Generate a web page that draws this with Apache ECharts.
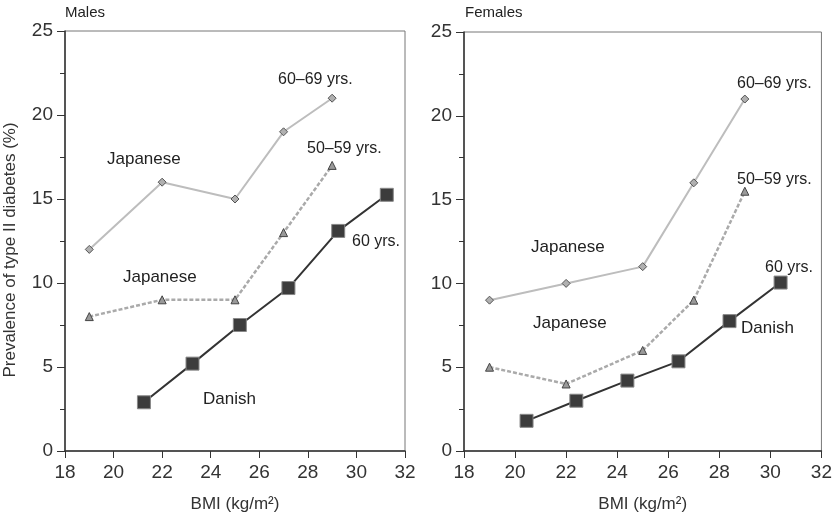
<!DOCTYPE html>
<html><head><meta charset="utf-8">
<script src="https://cdn.jsdelivr.net/npm/echarts@6/dist/echarts.min.js"></script>
<style>html,body{margin:0;padding:0;background:#fff}#c{width:835px;height:518px}</style>
</head><body><div id="c"></div>
<script>
// Males
const maleJap6069X = [19, 22, 25, 27, 29];
const maleJap6069Y = [12, 16, 15, 19, 21];
const maleJap5059X = [19, 22, 25, 27, 29];
const maleJap5059Y = [8, 9, 9, 13, 17];
const maleDanX = [21.25, 23.25, 25.2, 27.2, 29.25, 31.25];
const maleDanY = [2.9, 5.2, 7.5, 9.7, 13.1, 15.25];
// Females
const femJap6069X = [19, 22, 25, 27, 29];
const femJap6069Y = [9, 10, 11, 16, 21];
const femJap5059X = [19, 22, 25, 27, 29];
const femJap5059Y = [5, 4, 6, 9, 15.5];
const femDanX = [20.45, 22.4, 24.4, 26.4, 28.4, 30.4];
const femDanY = [1.8, 3.0, 4.2, 5.35, 7.75, 10.05];
// Axes
const xTicks = [18, 20, 22, 24, 26, 28, 30, 32];
const yTicks = [0, 5, 10, 15, 20, 25];

const zip = (xs, ys) => xs.map((x, i) => [x, ys[i]]);
const FONT = '"Liberation Sans", Arial, sans-serif';

function xAxis(gi, name) {
  return {
    type: 'value', gridIndex: gi, min: xTicks[0], max: xTicks[xTicks.length - 1], interval: 2,
    name: name, nameLocation: 'middle', nameGap: 45,
    nameTextStyle: { fontFamily: FONT, fontSize: 17, color: '#333' },
    axisLine: { show: true, lineStyle: { color: '#333', width: 1.5 } },
    axisTick: { show: true, inside: false, length: 7, lineStyle: { color: '#333' } },
    axisLabel: { fontFamily: FONT, fontSize: 19, color: '#333', margin: 12 },
    splitLine: { show: false }
  };
}
function yAxis(gi, name) {
  return {
    type: 'value', gridIndex: gi, min: yTicks[0], max: yTicks[yTicks.length - 1], interval: 5,
    name: name, nameLocation: 'middle', nameGap: 46, nameRotate: 90,
    nameTextStyle: { fontFamily: FONT, fontSize: 17, color: '#333', padding: [0, 18, 0, 0] },
    axisLine: { show: true, lineStyle: { color: '#333', width: 1.5 } },
    axisTick: { show: true, inside: false, length: 8, lineStyle: { color: '#333' } },
    minorTick: { show: true, splitNumber: 2, length: 5, lineStyle: { color: '#333' } },
    axisLabel: { fontFamily: FONT, fontSize: 19, color: '#333', margin: 12 },
    splitLine: { show: false }
  };
}

function series(gi, d6069, d5059, dDan) {
  return [
    { type: 'line', xAxisIndex: gi, yAxisIndex: gi, data: d6069, symbol: 'diamond', symbolSize: 8,
      lineStyle: { color: '#bdbdbd', width: 2 }, itemStyle: { color: '#b0b0b0', borderColor: '#555', borderWidth: 1 }, z: 3 },
    { type: 'line', xAxisIndex: gi, yAxisIndex: gi, data: d5059, symbol: 'triangle', symbolSize: 8,
      lineStyle: { color: '#aaaaaa', width: 2.5, type: [4, 2] }, itemStyle: { color: '#999', borderColor: '#444', borderWidth: 1 }, z: 3 },
    { type: 'line', xAxisIndex: gi, yAxisIndex: gi, data: dDan, symbol: 'rect', symbolSize: 13,
      lineStyle: { color: '#333', width: 2 }, itemStyle: { color: '#3c3c3c', borderColor: '#888', borderWidth: 1 }, z: 4 }
  ];
}

function txt(x, cy, s, size) {
  return { type: 'text', left: x, top: cy - Math.round(size / 2) - 1, style: { text: s, font: size + 'px ' + FONT, fill: '#222' } };
}

const chart = echarts.init(document.getElementById('c'), null, { renderer: 'canvas' });
chart.setOption({
  backgroundColor: '#fff',
  animation: false,
  grid: [
    { left: 65, right: 430, top: 31, bottom: 66, show: true, borderColor: '#777', borderWidth: 1, backgroundColor: 'transparent' },
    { left: 464, right: 12, top: 32, bottom: 66, show: true, borderColor: '#777', borderWidth: 1, backgroundColor: 'transparent' }
  ],
  xAxis: [xAxis(0, 'BMI (kg/m²)'), xAxis(1, 'BMI (kg/m²)')],
  yAxis: [yAxis(0, 'Prevalence of type II diabetes (%)'), yAxis(1, '')],
  series: [].concat(
    series(0, zip(maleJap6069X, maleJap6069Y), zip(maleJap5059X, maleJap5059Y), zip(maleDanX, maleDanY)),
    series(1, zip(femJap6069X, femJap6069Y), zip(femJap5059X, femJap5059Y), zip(femDanX, femDanY))
  ),
  graphic: [
    txt(65, 14, 'Males', 15),
    txt(465, 14, 'Females', 15),
    txt(107, 161, 'Japanese', 17),
    txt(123, 279, 'Japanese', 17),
    txt(203, 401, 'Danish', 17),
    txt(278, 81, '60–69 yrs.', 16),
    txt(307, 150, '50–59 yrs.', 16),
    txt(352, 243, '60 yrs.', 16),
    txt(531, 249, 'Japanese', 17),
    txt(533, 325, 'Japanese', 17),
    txt(741, 330, 'Danish', 17),
    txt(765, 269, '60 yrs.', 16),
    txt(737, 85, '60–69 yrs.', 16),
    txt(737, 181, '50–59 yrs.', 16)
  ]
});
</script></body></html>
